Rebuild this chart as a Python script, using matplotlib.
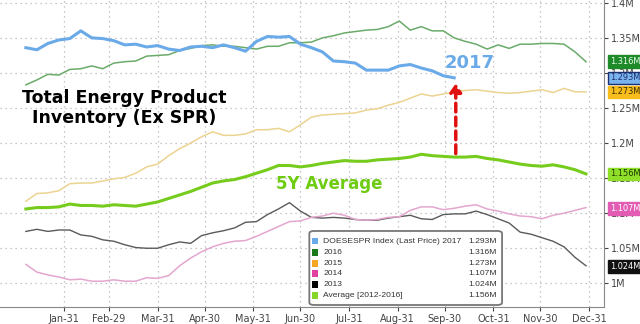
import pandas as pd
import matplotlib.pyplot as plt
import matplotlib.dates as mdates
from matplotlib import font_manager
from matplotlib.patches import FancyBboxPatch, Rectangle

# weekly readings (million barrels)
weeks = pd.date_range("2016-01-07", periods=52, freq="7D")

y2017 = [1.336, 1.333, 1.342, 1.347, 1.349, 1.360, 1.350, 1.349, 1.346, 1.340,
         1.341, 1.337, 1.339, 1.334, 1.332, 1.337, 1.338, 1.336, 1.340, 1.336,
         1.331, 1.345, 1.352, 1.351, 1.352, 1.341, 1.336, 1.330, 1.317, 1.316,
         1.314, 1.304, 1.304, 1.304, 1.310, 1.312, 1.307, 1.303, 1.296, 1.293]

y2016 = [1.283, 1.290, 1.298, 1.297, 1.305, 1.306, 1.310, 1.306, 1.314, 1.316,
         1.317, 1.324, 1.325, 1.326, 1.332, 1.335, 1.339, 1.340, 1.338, 1.338,
         1.336, 1.334, 1.338, 1.338, 1.343, 1.343, 1.344, 1.350, 1.353, 1.357,
         1.359, 1.361, 1.362, 1.366, 1.374, 1.361, 1.366, 1.360, 1.360, 1.350,
         1.345, 1.341, 1.334, 1.340, 1.335, 1.341, 1.341, 1.342, 1.342, 1.341,
         1.330, 1.316]

y2015 = [1.117, 1.128, 1.129, 1.132, 1.142, 1.143, 1.143, 1.146, 1.149, 1.151,
         1.157, 1.166, 1.170, 1.182, 1.192, 1.200, 1.209, 1.216, 1.211, 1.211,
         1.213, 1.219, 1.219, 1.221, 1.216, 1.226, 1.237, 1.240, 1.241, 1.242,
         1.243, 1.247, 1.249, 1.254, 1.258, 1.264, 1.270, 1.267, 1.270, 1.273,
         1.275, 1.276, 1.274, 1.272, 1.271, 1.272, 1.274, 1.276, 1.272, 1.278,
         1.273, 1.273]

y2014 = [1.027, 1.016, 1.012, 1.009, 1.005, 1.006, 1.003, 1.003, 1.005, 1.003,
         1.003, 1.008, 1.007, 1.011, 1.025, 1.036, 1.045, 1.052, 1.057, 1.060,
         1.061, 1.067, 1.074, 1.081, 1.088, 1.089, 1.094, 1.096, 1.100, 1.097,
         1.091, 1.090, 1.091, 1.094, 1.095, 1.104, 1.109, 1.109, 1.105, 1.107,
         1.110, 1.112, 1.106, 1.103, 1.099, 1.096, 1.095, 1.092, 1.097, 1.100,
         1.104, 1.108]

y2013 = [1.074, 1.077, 1.074, 1.076, 1.076, 1.069, 1.067, 1.062, 1.060, 1.055,
         1.051, 1.050, 1.050, 1.055, 1.059, 1.057, 1.068, 1.072, 1.075, 1.079,
         1.087, 1.088, 1.098, 1.106, 1.115, 1.103, 1.094, 1.093, 1.094, 1.093,
         1.091, 1.090, 1.090, 1.093, 1.095, 1.097, 1.092, 1.091, 1.098, 1.099,
         1.099, 1.103, 1.098, 1.092, 1.086, 1.073, 1.070, 1.065, 1.060, 1.052,
         1.037, 1.025]

avg5y = [1.106, 1.108, 1.108, 1.109, 1.113, 1.111, 1.111, 1.110, 1.112, 1.111,
         1.110, 1.113, 1.116, 1.121, 1.126, 1.131, 1.137, 1.143, 1.146, 1.148,
         1.152, 1.157, 1.162, 1.168, 1.168, 1.166, 1.168, 1.171, 1.173, 1.175,
         1.174, 1.174, 1.176, 1.177, 1.178, 1.180, 1.184, 1.182, 1.181, 1.180,
         1.180, 1.181, 1.178, 1.176, 1.173, 1.170, 1.168, 1.167, 1.169, 1.166,
         1.162, 1.156]

legend_labels = ["DOESESPR Index (Last Price) 2017", "2016", "2015", "2014",
                 "2013", "Average [2012-2016]"]
last_values = ["1.293M", "1.316M", "1.273M", "1.107M", "1.024M", "1.156M"]

# narrow font for the value tags if there is one
condensed = [f for f in font_manager.fontManager.ttflist
             if ("Narrow" in f.name or "Condensed" in f.name or f.stretch == "condensed")
             and f.weight in ("normal", 400)]
if condensed:
    tag_font = dict(family=condensed[0].name, stretch=condensed[0].stretch, fontsize=6.6)
else:
    tag_font = dict(family="Liberation Sans", fontsize=5.4)

fig = plt.figure(figsize=(6.4, 3.24), dpi=100)
ax = fig.add_axes([0, 0.052, 0.944, 0.948])

ax.plot(weeks, y2013, color="#5a5a5a", lw=1.0)
ax.plot(weeks, y2014, color="#e4a6cf", lw=1.1)
ax.plot(weeks, y2015, color="#ecd390", lw=1.1)
ax.plot(weeks, y2016, color="#6aab6a", lw=1.1)
ax.plot(weeks, avg5y, color="#76cc1c", lw=2.2)
ax.plot(weeks[:len(y2017)], y2017, color="#6aaae8", lw=2.2)

ax.set_ylim(0.966, 1.404)
ax.set_xlim(pd.Timestamp("2015-12-21 12:00"), pd.Timestamp("2017-01-09 14:00"))

yt = [1.0, 1.05, 1.1, 1.15, 1.2, 1.25, 1.3, 1.35, 1.4]
ax.set_yticks(yt)
ax.set_yticklabels(["1M", "1.05M", "1.1M", "1.15M", "1.2M", "1.25M", "1.3M", "1.35M", "1.4M"])
ax.yaxis.tick_right()

month_ends = pd.date_range("2016-01-31", periods=12, freq="ME")
ax.set_xticks(month_ends)
ax.xaxis.set_major_formatter(mdates.DateFormatter("%b-%d"))

ax.tick_params(axis="both", labelsize=7, colors="#444444", length=3, pad=2)
ax.grid(True, linestyle=(0, (1, 3)), color="#b5b5b5", lw=0.9)
for s in ["left", "top"]:
    ax.spines[s].set_visible(False)
for s in ["bottom", "right"]:
    ax.spines[s].set_color("#888888")

# last-value boxes on the right axis
boxes = [(1.316, "1.316M", "#1f8a2a", "#eaffea", "#1f8a2a"),
         (1.293, "1.293M", "#7ab4ee", "#1c2f6e", "#1c2f6e"),
         (1.273, "1.273M", "#f7bd1c", "#3a2a00", "#f7bd1c"),
         (1.156, "1.156M", "#8ede2a", "#1e3a00", "#8ede2a"),
         (1.107, "1.107M", "#e25cb4", "white", "#e25cb4"),
         (1.024, "1.024M", "#111111", "white", "#111111")]
for v, t, bg, fg, ec in boxes:
    ax.text(1.009, v, t, transform=ax.get_yaxis_transform(), color=fg,
            va="center", ha="left", zorder=10, **tag_font,
            bbox=dict(boxstyle="square,pad=0.2", fc=bg, ec=ec, lw=1))

# annotations
ax.text(0.205, 0.648, "Total Energy Product\nInventory (Ex SPR)", transform=ax.transAxes,
        fontsize=12.5, fontweight="bold", ha="center", va="center", linespacing=1.15)
ax.text(0.777, 0.795, "2017", transform=ax.transAxes, fontsize=13,
        fontweight="bold", color="#6aaae8", ha="center", va="center")
ax.text(0.545, 0.40, "5Y Average", transform=ax.transAxes, fontsize=12,
        fontweight="bold", color="#6fcc12", ha="center", va="center")
ax.annotate("", xy=(pd.Timestamp("2016-10-07"), 1.289), xytext=(pd.Timestamp("2016-10-07"), 1.181),
            arrowprops=dict(arrowstyle="-|>,head_width=0.35,head_length=0.5", color="#e01010",
                            lw=2.5, linestyle=(0, (2.5, 1.5))), zorder=6)

# legend panel
lx0, lx1, ly0, ly1 = 0.512, 0.831, 0.007, 0.248
ax.add_patch(FancyBboxPatch((lx0, ly0), lx1 - lx0, ly1 - ly0, transform=ax.transAxes,
                            boxstyle="round,pad=0,rounding_size=0.008", fc="white",
                            ec="#777777", lw=1.3, zorder=8))
leg_colors = ["#6aaae8", "#1a7a1a", "#f5a623", "#e040a0", "#000000", "#86d62a"]
row_y = [0.215, 0.177, 0.142, 0.109, 0.074, 0.038]
for lab, val, c, yy in zip(legend_labels, last_values, leg_colors, row_y):
    ax.add_patch(Rectangle((0.517, yy - 0.011), 0.009, 0.022, transform=ax.transAxes,
                           fc=c, ec="none", zorder=9))
    ax.text(0.535, yy, lab, transform=ax.transAxes, fontsize=6.1, family="Liberation Sans",
            color="#333333", va="center", ha="left", zorder=9)
    ax.text(0.823, yy, val, transform=ax.transAxes, fontsize=6.1, family="Liberation Sans",
            color="#333333", va="center", ha="right", zorder=9)

fig.savefig("out.png", dpi=100)
